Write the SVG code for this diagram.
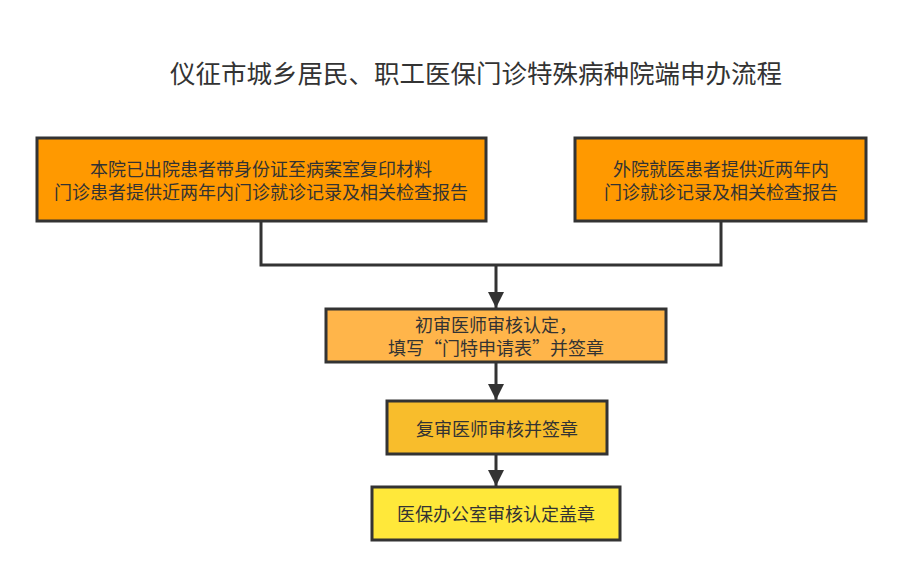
<svg xmlns="http://www.w3.org/2000/svg" width="903" height="577" viewBox="0 0 903 577">
<defs>
<style>
.box{stroke:#333333;stroke-width:3}
.t{font-family:"Liberation Sans","Noto Sans CJK SC",sans-serif;font-size:18px;fill:#333333;text-anchor:middle}
.q{font-family:"Noto Sans CJK SC",sans-serif}
.title{font-family:"Noto Sans CJK SC","Liberation Sans",sans-serif;font-size:25.5px;fill:#333333;text-anchor:middle}
.c{fill:none;stroke:#333333;stroke-width:3}
</style>
<marker id="ah" markerUnits="userSpaceOnUse" markerWidth="16" markerHeight="20" refX="16" refY="8" orient="auto">
<path d="M0,0 L16,8 L0,16 Z" fill="#333333"/>
</marker>
</defs>
<rect width="903" height="577" fill="#ffffff"/>
<text class="title" x="476" y="83">仪征市城乡居民、职工医保门诊特殊病种院端申办流程</text>
<g id="connectors">
<polyline class="c" points="261,221 261,265 721,265 721,221"/>
<line class="c" x1="496" y1="265" x2="496" y2="308" marker-end="url(#ah)"/>
<line class="c" x1="496" y1="362" x2="496" y2="400" marker-end="url(#ah)"/>
<line class="c" x1="496" y1="454" x2="496" y2="486" marker-end="url(#ah)"/>
</g>
<g id="n1">
<rect class="box" x="37" y="138" width="449" height="83" fill="#FF9900"/>
<text class="t" x="261" y="176">本院已出院患者带身份证至病案室复印材料</text>
<text class="t" x="261" y="199">门诊患者提供近两年内门诊就诊记录及相关检查报告</text>
</g>
<g id="n2">
<rect class="box" x="575" y="138" width="291" height="83" fill="#FF9900"/>
<text class="t" x="721" y="176">外院就医患者提供近两年内</text>
<text class="t" x="721" y="199">门诊就诊记录及相关检查报告</text>
</g>
<g id="n3">
<rect class="box" x="326" y="309" width="340" height="53" fill="#FFB54A"/>
<text class="t" x="496" y="332">初审医师审核认定，</text>
<text class="t" x="496" y="355">填写<tspan class="q">“</tspan>门特申请表<tspan class="q">”</tspan>并签章</text>
</g>
<g id="n4">
<rect class="box" x="387" y="401" width="220" height="53" fill="#F8BD2C"/>
<text class="t" x="497" y="436">复审医师审核并签章</text>
</g>
<g id="n5">
<rect class="box" x="372" y="487" width="248" height="53" fill="#FFE83A"/>
<text class="t" x="496" y="521">医保办公室审核认定盖章</text>
</g>
</svg>
